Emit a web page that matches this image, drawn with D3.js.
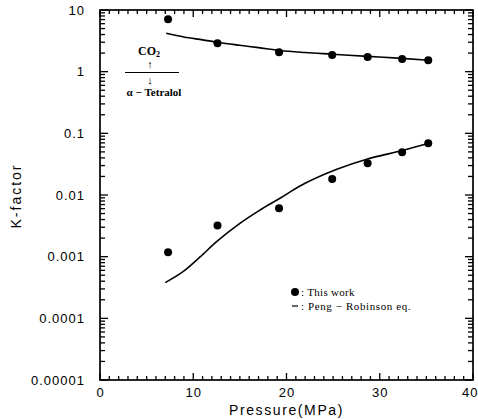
<!DOCTYPE html>
<html>
<head>
<meta charset="utf-8">
<script src="https://cdn.jsdelivr.net/npm/d3@7"></script>
<style>
  body { margin: 0; background: #fff; }
  svg { display: block; }
</style>
</head>
<body>
<div id="chart"></div>
<script>
// measured points (This work)
var expPressure = [7.3, 12.6, 19.2, 24.9, 28.7, 32.4, 35.2];
var kCO2 = [7.1, 2.89, 2.06, 1.86, 1.73, 1.61, 1.53];
var kTetralol = [0.00118, 0.0032, 0.0061, 0.0182, 0.0327, 0.0493, 0.069];

// Peng-Robinson curves
var prPressureTop = [7.1, 9, 11, 12.8, 15, 17, 19.3, 22, 24.9, 28.7, 32.4, 35.2];
var prCO2 = [4.2, 3.65, 3.28, 2.97, 2.68, 2.45, 2.2, 2.04, 1.92, 1.77, 1.64, 1.53];
var prPressureBottom = [7.0, 8.9, 10.7, 12.5, 15.0, 17.15, 19.3, 21.3, 25.4, 28.6, 32.4, 35.25];
var prTetralol = [0.00038, 0.00057, 0.00098, 0.00175, 0.00347, 0.0057, 0.00885, 0.0136, 0.0261, 0.038, 0.0525, 0.069];

var xTicks = [0, 10, 20, 30, 40];
var yTicks = [0.00001, 0.0001, 0.001, 0.01, 0.1, 1, 10];
var yTickLabels = ["0.00001", "0.0001", "0.001", "0.01", "0.1", "1", "10"];

var svgWidth = 478;
var svgHeight = 419;
var margin = { top: 10, right: 5, bottom: 39, left: 100 };
var width = svgWidth - margin.left - margin.right;
var height = svgHeight - margin.top - margin.bottom;

var svg = d3.select("#chart")
  .append("svg")
  .attr("width", svgWidth)
  .attr("height", svgHeight);

var chartGroup = svg.append("g")
  .attr("transform", `translate(${margin.left}, ${margin.top})`);

var xScale = d3.scaleLinear().domain([0, 40]).range([0, width]);
var yScale = d3.scaleLog().domain([0.00001, 10]).range([height, 0]);

var xMinor = d3.range(0, 41, 1).filter(d => d % 10 !== 0);
var yMinor = yScale.ticks().filter(d => yTicks.indexOf(d) < 0);

var tickFont = "'Liberation Sans', Arial, sans-serif";

// axes: labels only, ticks drawn below
chartGroup.append("g")
  .attr("class", "x_axis")
  .attr("transform", `translate(0, ${height})`)
  .call(d3.axisBottom(xScale).tickValues(xTicks).tickSize(0).tickPadding(8));

chartGroup.append("g")
  .attr("class", "y_axis")
  .call(d3.axisLeft(yScale).tickValues(yTicks)
    .tickFormat((d, i) => yTickLabels[i])
    .tickSize(0).tickPadding(15));

chartGroup.selectAll(".domain").remove();
chartGroup.selectAll(".tick line").remove();
chartGroup.selectAll(".tick text")
  .attr("fill", "#000")
  .attr("font-family", tickFont)
  .attr("font-size", "13px")
  .attr("letter-spacing", "1px");

// keep the last x label inside the picture
chartGroup.select(".x_axis").selectAll(".tick text")
  .filter(d => d === 40)
  .attr("text-anchor", "end")
  .attr("dx", "5");

// frame
chartGroup.append("rect")
  .attr("width", width)
  .attr("height", height)
  .attr("fill", "none")
  .attr("stroke", "#000")
  .attr("stroke-width", 1.7);

// inward ticks on all four sides
var ticks = chartGroup.append("g").attr("stroke", "#000").attr("stroke-width", 1.3);

function xTickLines(values, len) {
  ticks.selectAll(null).data(values).enter().append("line")
    .attr("x1", d => xScale(d)).attr("x2", d => xScale(d))
    .attr("y1", height).attr("y2", height - len);
  ticks.selectAll(null).data(values).enter().append("line")
    .attr("x1", d => xScale(d)).attr("x2", d => xScale(d))
    .attr("y1", 0).attr("y2", len);
}

function yTickLines(values, len) {
  ticks.selectAll(null).data(values).enter().append("line")
    .attr("x1", 0).attr("x2", len)
    .attr("y1", d => yScale(d)).attr("y2", d => yScale(d));
  ticks.selectAll(null).data(values).enter().append("line")
    .attr("x1", width).attr("x2", width - len)
    .attr("y1", d => yScale(d)).attr("y2", d => yScale(d));
}

xTickLines(xTicks, 7);
xTickLines(xMinor, 4);
yTickLines(yTicks, 8);
yTickLines(yMinor, 5);

// curves
var line = d3.line()
  .x(d => xScale(d[0]))
  .y(d => yScale(d[1]))
  .curve(d3.curveMonotoneX);

chartGroup.append("path")
  .datum(d3.zip(prPressureTop, prCO2))
  .attr("d", line)
  .attr("fill", "none")
  .attr("stroke", "#000")
  .attr("stroke-width", 1.6);

chartGroup.append("path")
  .datum(d3.zip(prPressureBottom, prTetralol))
  .attr("d", line)
  .attr("fill", "none")
  .attr("stroke", "#000")
  .attr("stroke-width", 1.6);

// points
chartGroup.selectAll(".co2")
  .data(d3.zip(expPressure, kCO2))
  .enter()
  .append("circle")
  .attr("cx", d => xScale(d[0]))
  .attr("cy", d => yScale(d[1]))
  .attr("r", 4)
  .attr("fill", "#000");

chartGroup.selectAll(".tetralol")
  .data(d3.zip(expPressure, kTetralol))
  .enter()
  .append("circle")
  .attr("cx", d => xScale(d[0]))
  .attr("cy", d => yScale(d[1]))
  .attr("r", 4)
  .attr("fill", "#000");

// axis titles
svg.append("text")
  .attr("x", margin.left + width / 2)
  .attr("y", 415)
  .attr("text-anchor", "middle")
  .attr("font-family", tickFont)
  .attr("font-size", "14px")
  .attr("letter-spacing", "1.6px")
  .text("Pressure(MPa)");

svg.append("text")
  .attr("transform", "translate(21, 196) rotate(-90)")
  .attr("text-anchor", "middle")
  .attr("font-family", tickFont)
  .attr("font-size", "14px")
  .attr("letter-spacing", "2px")
  .text("K-factor");

// legend
var serif = "'Liberation Serif', 'Times New Roman', serif";
svg.append("circle").attr("cx", 295).attr("cy", 292).attr("r", 4).attr("fill", "#000");
svg.append("text")
  .attr("x", 301).attr("y", 296)
  .attr("font-family", serif).attr("font-size", "11px")
  .attr("letter-spacing", "0.3px")
  .text(": This work");
svg.append("line")
  .attr("x1", 292).attr("x2", 298).attr("y1", 306).attr("y2", 306)
  .attr("stroke", "#000").attr("stroke-width", 1.2);
svg.append("text")
  .attr("x", 301).attr("y", 310)
  .attr("font-family", serif).attr("font-size", "11px")
  .attr("letter-spacing", "0.6px")
  .text(": Peng \u2212 Robinson  eq.");

// phase annotation
var note = svg.append("g").attr("font-family", serif).attr("font-weight", "bold").attr("fill", "#000");
note.append("text").attr("x", 149).attr("y", 55).attr("text-anchor", "middle").attr("font-size", "12px")
  .text("CO").append("tspan").attr("font-size", "8px").attr("dy", "2").text("2");
note.append("text").attr("x", 150).attr("y", 68).attr("text-anchor", "middle").attr("font-size", "11px").text("\u2191");
note.append("line").attr("x1", 125).attr("x2", 179).attr("y1", 72.5).attr("y2", 72.5)
  .attr("stroke", "#000").attr("stroke-width", 1.1);
note.append("text").attr("x", 150).attr("y", 84).attr("text-anchor", "middle").attr("font-size", "11px").text("\u2193");
note.append("text").attr("x", 154).attr("y", 96).attr("text-anchor", "middle").attr("font-size", "11px")
  .text("\u03b1 \u2212 Tetralol");
</script>
</body>
</html>
